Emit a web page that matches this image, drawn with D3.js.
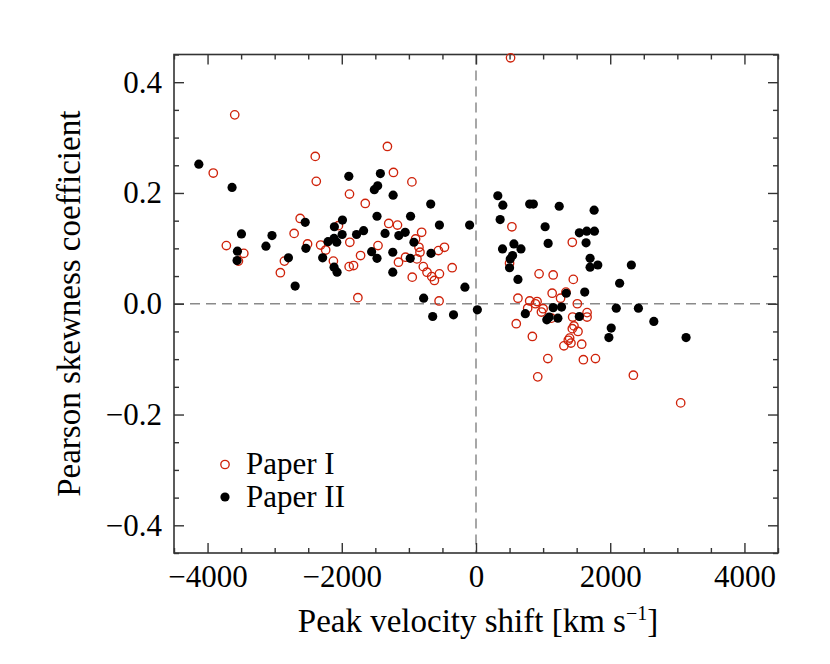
<html>
<script src="https://d3js.org/d3.v7.min.js"></script>
<body style="margin:0;background:white">
<svg height="664" width="830" id="chart"></svg>
<script>

// Paper I points (open red circles): [velocity shift, skewness]
var paper1X = [-3595, -3915, -3720, -3460, -3540, -2915, -2855, -2710, -2620, -2510,
  -2395, -2380, -2315, -2240, -2125, -2050, -1885, -1880, -1890, -1825,
  -1650, -1720, -1760, -1460, -1320, -1230, -1300, -1170, -1155, -1050,
  -955, -950, -900, -850, -810, -835, -880, -785, -730, -660,
  -620, -560, -470, -545, -550, -355,
  515, 535, 500, 1435, 940, 1150, 1450, 1135, 1340, 1260,
  625, 800, 910, 885, 1510, 770, 975, 1000, 1655, 1655,
  600, 840, 1440, 1460, 1435, 1520, 1395, 1375, 1310, 1415,
  1575, 1070, 1600, 1780, 920, 2345, 3050, 1125];
var paper1Y = [0.341, 0.236, 0.105, 0.091, 0.077, 0.056, 0.077, 0.127, 0.154, 0.108,
  0.266, 0.221, 0.106, 0.097, 0.077, 0.141, 0.198, 0.111, 0.067, 0.069,
  0.181, 0.087, 0.011, 0.105, 0.284, 0.237, 0.145, 0.142, 0.075, 0.084,
  0.220, 0.048, 0.117, 0.102, 0.129, 0.093, 0.081, 0.067, 0.057, 0.049,
  0.042, 0.096, 0.102, 0.054, 0.005, 0.065,
  0.444, 0.139, 0.073, 0.111, 0.054, 0.052, 0.044, 0.019, 0.021, 0.010,
  0.010, 0.005, 0.004, 0.000, 0.000, -0.008, -0.015, -0.009, -0.016, -0.024,
  -0.036, -0.059, -0.024, -0.040, -0.045, -0.050, -0.062, -0.066, -0.076, -0.071,
  -0.073, -0.099, -0.101, -0.099, -0.132, -0.129, -0.179, -0.026];

// Paper II points (filled black circles)
var paper2X = [-4130, -3635, -3495, -3555, -3560, -3130, -3040, -2795, -2695, -2545,
  -2535, -2285, -2205, -2110, -2115, -2075, -1990, -1995, -2115, -2070,
  -1895, -1780, -1675, -1555, -1475, -1515, -1465, -1425, -1475, -1355,
  -1235, -1240, -1240, -1150, -1055, -975, -925, -980, -675, -670,
  -545, -780, -645, -335, -165, -95, 20,
  325, 400, 360, 800, 855, 1240, 1760, 1030, 1540, 1650,
  1765, 1640, 1075, 565, 395, 670, 545, 510, 500, 625,
  1700, 1700, 1815, 2315, 2140, 1620, 1345, 1150, 1275, 2090,
  2420, 735, 1055, 1090, 1220, 1540, 2650, 2015, 1980, 3130];
var paper2Y = [0.252, 0.210, 0.126, 0.095, 0.078, 0.104, 0.123, 0.083, 0.032, 0.147,
  0.100, 0.083, 0.112, 0.139, 0.118, 0.111, 0.151, 0.125, 0.066, 0.057,
  0.230, 0.125, 0.132, 0.094, 0.082, 0.206, 0.213, 0.235, 0.158, 0.127,
  0.196, 0.093, 0.057, 0.123, 0.129, 0.158, 0.111, 0.082, 0.180, 0.091,
  0.142, 0.010, -0.023, -0.020, 0.030, 0.142, -0.011,
  0.195, 0.178, 0.152, 0.180, 0.180, 0.176, 0.169, 0.139, 0.128, 0.131,
  0.131, 0.110, 0.109, 0.108, 0.099, 0.099, 0.087, 0.081, 0.065, 0.044,
  0.082, 0.066, 0.070, 0.070, 0.037, 0.021, 0.019, -0.007, -0.006, -0.008,
  -0.008, -0.018, -0.029, -0.024, -0.026, -0.023, -0.032, -0.044, -0.061, -0.061];

var xMajor = [-4000, -2000, 0, 2000, 4000];
var yMajor = [-0.4, -0.2, 0.0, 0.2, 0.4];
var legendLabels = ["Paper I", "Paper II"];

var pLeft = 174, pRight = 778, pTop = 54.5, pBottom = 553;
var font = "Liberation Serif, Times New Roman, serif";
var red = "#cf220a";

var svg = d3.select("#chart");

var x = d3.scaleLinear().domain([-4500, 4500]).range([pLeft, pRight]);
var y = d3.scaleLinear().domain([-0.45, 0.45]).range([pBottom, pTop]);

var xMinor = d3.range(-4500, 4501, 500).filter(function(v) { return xMajor.indexOf(v) < 0; });
var yMinor = d3.range(-9, 10).map(function(i) { return i * 0.05; })
  .filter(function(v) { return Math.abs(Math.round(v * 20)) % 4 != 0; });

// minus sign like the original
var fmtX = function(d) { return d < 0 ? "\u2212" + Math.abs(d) : "" + d; };
var fmtY = function(d) { return (d < 0 ? "\u2212" : "") + Math.abs(d).toFixed(1); };

// dashed zero lines
svg.append("line")
  .attr("x1", pLeft).attr("x2", pRight)
  .attr("y1", y(0)).attr("y2", y(0))
  .style("stroke", "#8a8a8a").style("stroke-width", 1.5)
  .style("stroke-dasharray", "10,6");
svg.append("line")
  .attr("x1", x(0)).attr("x2", x(0))
  .attr("y1", pTop).attr("y2", pBottom)
  .style("stroke", "#8a8a8a").style("stroke-width", 1.5)
  .style("stroke-dasharray", "10,6");

// axes, ticks pointing inward on all four sides
var addAxis = function(axis, tx, ty, vals, size, fmt) {
  var g = svg.append("g")
    .attr("transform", "translate(" + tx + "," + ty + ")")
    .call(axis.tickValues(vals).tickSize(-size).tickPadding(12).tickFormat(fmt))
    .attr("font-family", font).attr("font-size", 31);
  g.select(".domain").remove();
  g.selectAll(".tick line").style("stroke", "#333").style("stroke-width", 1.4);
  g.selectAll("text").style("fill", "#000");
  return g;
};
var none = function() { return ""; };

addAxis(d3.axisBottom(x), 0, pBottom, xMajor, 10, fmtX);
addAxis(d3.axisBottom(x), 0, pBottom, xMinor, 5, none);
addAxis(d3.axisTop(x), 0, pTop, xMajor, 10, none);
addAxis(d3.axisTop(x), 0, pTop, xMinor, 5, none);
addAxis(d3.axisLeft(y), pLeft, 0, yMajor, 10, fmtY);
addAxis(d3.axisLeft(y), pLeft, 0, yMinor, 5, none);
addAxis(d3.axisRight(y), pRight, 0, yMajor, 10, none);
addAxis(d3.axisRight(y), pRight, 0, yMinor, 5, none);

svg.append("rect")
  .attr("x", pLeft).attr("y", pTop)
  .attr("width", pRight - pLeft).attr("height", pBottom - pTop)
  .style("fill", "none").style("stroke", "#333").style("stroke-width", 1.6);

// points
svg.append("g").selectAll("circle")
  .data(d3.range(paper1X.length))
  .enter().append("circle")
  .attr("cx", function(i) { return x(paper1X[i]); })
  .attr("cy", function(i) { return y(paper1Y[i]); })
  .attr("r", 4.2)
  .style("fill", "none").style("stroke", red).style("stroke-width", 1.35);

svg.append("g").selectAll("circle")
  .data(d3.range(paper2X.length))
  .enter().append("circle")
  .attr("cx", function(i) { return x(paper2X[i]); })
  .attr("cy", function(i) { return y(paper2Y[i]); })
  .attr("r", 4.6)
  .style("fill", "#000");

// legend
svg.append("circle").attr("cx", 225).attr("cy", 464.5).attr("r", 4.2)
  .style("fill", "none").style("stroke", red).style("stroke-width", 1.35);
svg.append("circle").attr("cx", 225).attr("cy", 497).attr("r", 4.6)
  .style("fill", "#000");
legendLabels.forEach(function(t, i) {
  svg.append("text").attr("x", 246).attr("y", 474 + i * 32.5)
    .attr("font-family", font).attr("font-size", 31).text(t);
});

// axis titles
var xt = svg.append("text")
  .attr("x", 478).attr("y", 632)
  .attr("text-anchor", "middle")
  .attr("font-family", font).attr("font-size", 33);
xt.append("tspan").text("Peak velocity shift [km s");
xt.append("tspan").attr("dy", -12).attr("font-size", 20).text("\u22121");
xt.append("tspan").attr("dy", 12).text("]");

svg.append("text")
  .attr("transform", "translate(80," + ((pTop + pBottom) / 2) + ") rotate(-90)")
  .attr("text-anchor", "middle")
  .attr("font-family", font).attr("font-size", 33)
  .text("Pearson skewness coefficient");

</script>
</body>
</html>
